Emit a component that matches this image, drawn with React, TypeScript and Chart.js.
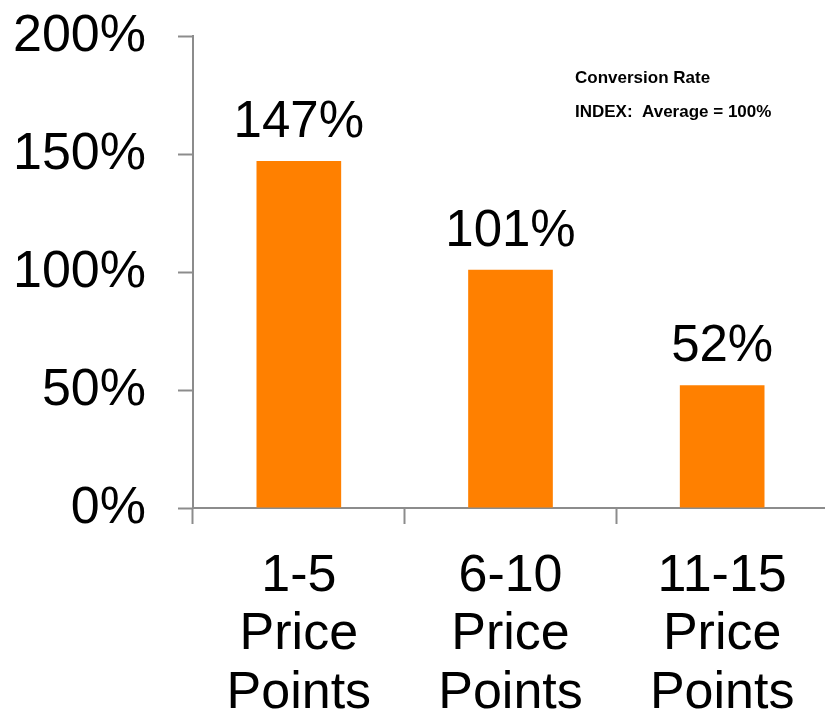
import React, { useEffect, useRef } from "react";
import { Chart, registerables } from "chart.js";

Chart.register(...registerables);

const categories: string[][] = [
  ["1-5", "Price", "Points"],
  ["6-10", "Price", "Points"],
  ["11-15", "Price", "Points"],
];
const conversionIndex: number[] = [147, 101, 52];
const yTicks: number[] = [0, 50, 100, 150, 200];
const noteLines: string[] = ["Conversion Rate", "INDEX:  Average = 100%"];

const FONT = "'Liberation Sans', Arial, Helvetica, sans-serif";
const AXIS_GRAY = "#8c8c8c";
const BAR_ORANGE = "#FF8000";

const valueLabels = {
  id: "valueLabels",
  afterDatasetsDraw(chart: any) {
    const ctx = chart.ctx;
    const meta = chart.getDatasetMeta(0);
    ctx.save();
    ctx.fillStyle = "#000";
    ctx.font = `51px ${FONT}`;
    ctx.textAlign = "center";
    ctx.textBaseline = "alphabetic";
    meta.data.forEach((bar: any, i: number) => {
      ctx.fillText(`${conversionIndex[i]}%`, bar.x, bar.y - 24);
    });
    ctx.restore();
  },
};

const noteText = {
  id: "noteText",
  afterDraw(chart: any) {
    const ctx = chart.ctx;
    ctx.save();
    ctx.fillStyle = "#000";
    ctx.font = `bold 17px ${FONT}`;
    ctx.textAlign = "left";
    ctx.textBaseline = "alphabetic";
    ctx.fillText(noteLines[0], 575, 83);
    ctx.fillText(noteLines[1], 575, 117);
    ctx.restore();
  },
};

export default function App() {
  const canvasRef = useRef<HTMLCanvasElement | null>(null);

  useEffect(() => {
    if (!canvasRef.current) return;
    const chart = new Chart(canvasRef.current, {
      type: "bar",
      data: {
        labels: categories,
        datasets: [
          {
            data: conversionIndex,
            backgroundColor: BAR_ORANGE,
            borderWidth: 0,
            categoryPercentage: 1,
            barPercentage: 0.4,
          },
        ],
      },
      options: {
        responsive: false,
        animation: false,
        layout: { padding: { top: 36, left: 0, right: 0, bottom: 0 } },
        plugins: {
          legend: { display: false },
          tooltip: { enabled: false },
        },
        scales: {
          x: {
            offset: true,
            grid: {
              display: true,
              drawOnChartArea: false,
              drawTicks: true,
              tickLength: 16,
              tickWidth: 2,
              tickColor: AXIS_GRAY,
              offset: true,
            },
            border: { display: true, color: AXIS_GRAY, width: 2 },
            ticks: {
              color: "#000",
              font: { family: FONT, size: 52, lineHeight: 1.13 },
              padding: 23,
              maxRotation: 0,
              autoSkip: false,
            },
            afterFit(scale: any) {
              scale.height = 208;
              scale.paddingLeft = 0;
              scale.paddingRight = 0;
            },
          },
          y: {
            min: 0,
            max: 200,
            afterBuildTicks(scale: any) {
              scale.ticks = yTicks.map((v) => ({ value: v }));
            },
            grid: {
              display: true,
              drawOnChartArea: false,
              drawTicks: true,
              tickLength: 15,
              tickWidth: 2,
              tickColor: AXIS_GRAY,
            },
            border: { display: true, color: AXIS_GRAY, width: 2 },
            ticks: {
              color: "#000",
              font: { family: FONT, size: 52 },
              padding: 32,
              labelOffset: 1,
              callback: (v: any) => `${v}%`,
            },
            afterFit(scale: any) {
              scale.width = 193;
              scale.paddingTop = 0;
              scale.paddingBottom = 0;
            },
          },
        },
      },
      plugins: [valueLabels, noteText],
    });
    return () => chart.destroy();
  }, []);

  return (
    <div
      style={{
        position: "fixed",
        left: 0,
        top: 0,
        width: 825,
        height: 716,
        overflow: "hidden",
        background: "#fff",
      }}
    >
      <canvas
        ref={canvasRef}
        width={828}
        height={716}
        style={{ width: 828, height: 716, display: "block" }}
      />
    </div>
  );
}
